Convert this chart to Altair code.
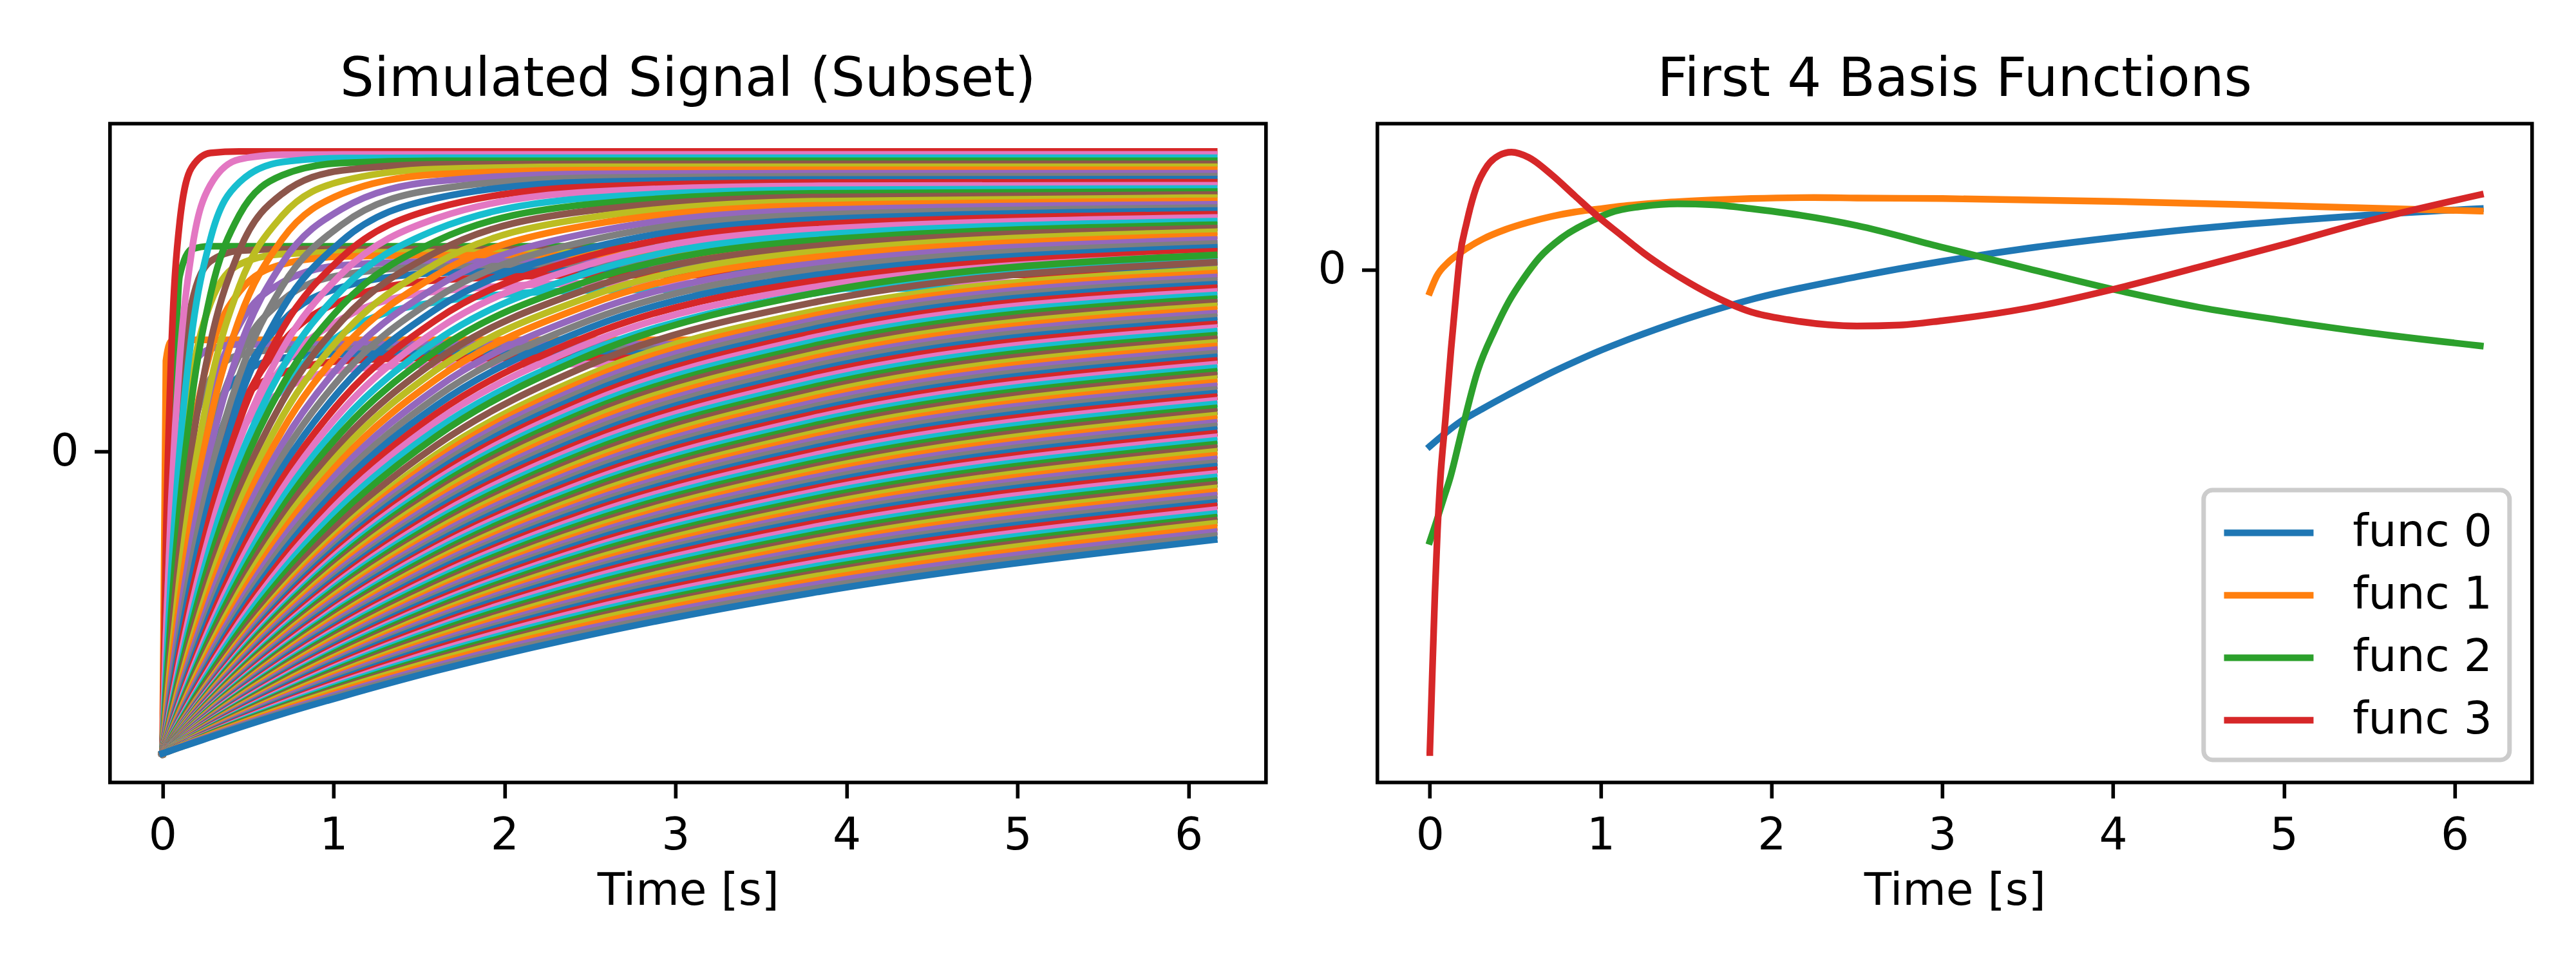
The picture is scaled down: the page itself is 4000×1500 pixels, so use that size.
import altair as alt
import pandas as pd

FONT = "DejaVu Sans"
TAB10 = ["#1f77b4", "#ff7f0e", "#2ca02c", "#d62728", "#9467bd",
         "#8c564b", "#e377c2", "#7f7f7f", "#bcbd22", "#17becf"]

# ---------------- left panel: simulated signals -------------
T_GRID = [0, 0.02, 0.05, 0.1, 0.17, 0.28, 0.45, 0.7, 1.05, 1.6, 2.5, 3.8, 6.15]

# main fan of recovery curves, ordered from the top (fastest) to the bottom (slowest)
FAN_CURVES = [
    [-1, -0.308, 0.306, 0.757, 0.940, 0.989, 0.994, 0.994, 0.994, 0.994, 0.994, 0.994, 0.994],
    [-1, -0.619, -0.181, 0.300, 0.659, 0.883, 0.968, 0.983, 0.984, 0.984, 0.984, 0.984, 0.984],
    [-1, -0.740, -0.410, 0.002, 0.383, 0.703, 0.892, 0.959, 0.972, 0.973, 0.973, 0.973, 0.973],
    [-1, -0.802, -0.541, -0.189, 0.168, 0.519, 0.784, 0.915, 0.956, 0.963, 0.963, 0.963, 0.963],
    [-1, -0.840, -0.625, -0.322, 0.006, 0.359, 0.666, 0.854, 0.931, 0.951, 0.953, 0.953, 0.953],
    [-1, -0.866, -0.685, -0.419, -0.120, 0.224, 0.549, 0.781, 0.896, 0.936, 0.943, 0.943, 0.943],
    [-1, -0.886, -0.727, -0.494, -0.219, 0.108, 0.440, 0.703, 0.854, 0.918, 0.932, 0.933, 0.933],
    [-1, -0.900, -0.760, -0.550, -0.300, 0.009, 0.342, 0.624, 0.804, 0.895, 0.920, 0.922, 0.922],
    [-1, -0.912, -0.788, -0.598, -0.367, -0.075, 0.252, 0.547, 0.752, 0.869, 0.907, 0.912, 0.912],
    [-1, -0.920, -0.808, -0.635, -0.422, -0.146, 0.172, 0.472, 0.698, 0.839, 0.893, 0.901, 0.902],
    [-1, -0.928, -0.826, -0.667, -0.470, -0.209, 0.100, 0.404, 0.644, 0.806, 0.877, 0.891, 0.892],
    [-1, -0.934, -0.840, -0.694, -0.510, -0.264, 0.035, 0.338, 0.590, 0.772, 0.860, 0.880, 0.882],
    [-1, -0.940, -0.853, -0.718, -0.546, -0.312, -0.025, 0.276, 0.536, 0.735, 0.840, 0.867, 0.871],
    [-1, -0.944, -0.864, -0.738, -0.576, -0.355, -0.078, 0.219, 0.484, 0.697, 0.819, 0.855, 0.861],
    [-1, -0.948, -0.873, -0.755, -0.604, -0.393, -0.127, 0.165, 0.434, 0.660, 0.798, 0.843, 0.851],
    [-1, -0.952, -0.882, -0.771, -0.628, -0.428, -0.171, 0.115, 0.385, 0.622, 0.775, 0.829, 0.841],
    [-1, -0.955, -0.889, -0.785, -0.649, -0.459, -0.212, 0.069, 0.339, 0.584, 0.751, 0.815, 0.830],
    [-1, -0.958, -0.896, -0.797, -0.669, -0.487, -0.249, 0.024, 0.294, 0.545, 0.725, 0.800, 0.819],
    [-1, -0.960, -0.901, -0.808, -0.686, -0.513, -0.284, -0.016, 0.251, 0.508, 0.700, 0.784, 0.808],
    [-1, -0.962, -0.907, -0.818, -0.702, -0.536, -0.315, -0.055, 0.211, 0.472, 0.674, 0.768, 0.798],
    [-1, -0.964, -0.912, -0.828, -0.717, -0.558, -0.345, -0.091, 0.172, 0.436, 0.648, 0.752, 0.786],
    [-1, -0.966, -0.916, -0.836, -0.730, -0.578, -0.372, -0.124, 0.135, 0.401, 0.621, 0.735, 0.775],
    [-1, -0.968, -0.920, -0.844, -0.743, -0.596, -0.398, -0.157, 0.099, 0.366, 0.594, 0.717, 0.763],
    [-1, -0.969, -0.924, -0.851, -0.754, -0.613, -0.421, -0.187, 0.066, 0.333, 0.567, 0.699, 0.751],
    [-1, -0.970, -0.927, -0.857, -0.764, -0.629, -0.444, -0.215, 0.033, 0.301, 0.541, 0.680, 0.740],
    [-1, -0.972, -0.930, -0.864, -0.774, -0.644, -0.464, -0.242, 0.003, 0.270, 0.514, 0.661, 0.728],
    [-1, -0.973, -0.933, -0.869, -0.783, -0.658, -0.484, -0.267, -0.027, 0.239, 0.488, 0.643, 0.715],
    [-1, -0.974, -0.936, -0.874, -0.792, -0.671, -0.503, -0.291, -0.056, 0.209, 0.461, 0.622, 0.702],
    [-1, -0.975, -0.939, -0.879, -0.800, -0.683, -0.520, -0.314, -0.083, 0.180, 0.435, 0.603, 0.689],
    [-1, -0.976, -0.941, -0.884, -0.807, -0.694, -0.536, -0.336, -0.108, 0.152, 0.410, 0.583, 0.676],
    [-1, -0.977, -0.943, -0.888, -0.814, -0.705, -0.551, -0.356, -0.133, 0.125, 0.385, 0.564, 0.663],
    [-1, -0.978, -0.945, -0.892, -0.821, -0.715, -0.566, -0.376, -0.157, 0.099, 0.360, 0.544, 0.650],
    [-1, -0.979, -0.947, -0.896, -0.827, -0.725, -0.580, -0.395, -0.180, 0.073, 0.334, 0.523, 0.635],
    [-1, -0.980, -0.949, -0.901, -0.834, -0.736, -0.596, -0.415, -0.204, 0.050, 0.320, 0.523, 0.651],
    [-1, -0.980, -0.952, -0.905, -0.841, -0.746, -0.611, -0.436, -0.230, 0.020, 0.288, 0.493, 0.627],
    [-1, -0.981, -0.953, -0.908, -0.847, -0.756, -0.625, -0.455, -0.255, -0.010, 0.256, 0.464, 0.603],
    [-1, -0.982, -0.954, -0.910, -0.850, -0.761, -0.632, -0.465, -0.267, -0.025, 0.241, 0.449, 0.591],
    [-1, -0.982, -0.955, -0.912, -0.853, -0.765, -0.639, -0.474, -0.279, -0.039, 0.225, 0.434, 0.578],
    [-1, -0.983, -0.956, -0.914, -0.856, -0.770, -0.646, -0.483, -0.291, -0.053, 0.210, 0.420, 0.566],
    [-1, -0.983, -0.957, -0.915, -0.859, -0.774, -0.652, -0.492, -0.302, -0.067, 0.195, 0.405, 0.554],
    [-1, -0.983, -0.958, -0.917, -0.862, -0.778, -0.658, -0.501, -0.313, -0.081, 0.180, 0.391, 0.542],
    [-1, -0.983, -0.959, -0.918, -0.864, -0.782, -0.664, -0.509, -0.324, -0.094, 0.165, 0.377, 0.530],
    [-1, -0.984, -0.960, -0.920, -0.867, -0.786, -0.670, -0.518, -0.335, -0.107, 0.151, 0.363, 0.518],
    [-1, -0.984, -0.960, -0.921, -0.869, -0.790, -0.676, -0.526, -0.345, -0.119, 0.137, 0.349, 0.506],
    [-1, -0.985, -0.961, -0.923, -0.871, -0.794, -0.682, -0.534, -0.355, -0.132, 0.123, 0.335, 0.494],
    [-1, -0.985, -0.962, -0.924, -0.873, -0.797, -0.687, -0.541, -0.365, -0.144, 0.109, 0.321, 0.482],
    [-1, -0.985, -0.963, -0.926, -0.876, -0.801, -0.693, -0.549, -0.375, -0.157, 0.095, 0.308, 0.470],
    [-1, -0.985, -0.963, -0.927, -0.878, -0.804, -0.698, -0.556, -0.385, -0.169, 0.081, 0.294, 0.458],
    [-1, -0.986, -0.964, -0.929, -0.880, -0.808, -0.703, -0.563, -0.395, -0.181, 0.068, 0.281, 0.446],
    [-1, -0.986, -0.964, -0.930, -0.882, -0.811, -0.708, -0.570, -0.404, -0.192, 0.054, 0.267, 0.434],
    [-1, -0.986, -0.965, -0.931, -0.884, -0.814, -0.713, -0.577, -0.413, -0.204, 0.041, 0.254, 0.422],
    [-1, -0.986, -0.966, -0.932, -0.886, -0.817, -0.718, -0.584, -0.422, -0.215, 0.028, 0.240, 0.410],
    [-1, -0.987, -0.967, -0.933, -0.888, -0.821, -0.723, -0.591, -0.431, -0.227, 0.015, 0.227, 0.398],
    [-1, -0.987, -0.967, -0.934, -0.890, -0.824, -0.727, -0.598, -0.440, -0.238, 0.002, 0.213, 0.385],
    [-1, -0.987, -0.968, -0.936, -0.892, -0.827, -0.732, -0.605, -0.449, -0.249, -0.011, 0.200, 0.373],
    [-1, -0.987, -0.968, -0.937, -0.894, -0.830, -0.736, -0.611, -0.457, -0.259, -0.024, 0.187, 0.361],
    [-1, -0.988, -0.969, -0.938, -0.896, -0.833, -0.741, -0.617, -0.466, -0.270, -0.036, 0.174, 0.349],
    [-1, -0.988, -0.969, -0.939, -0.898, -0.835, -0.745, -0.623, -0.474, -0.280, -0.048, 0.161, 0.337],
    [-1, -0.988, -0.970, -0.940, -0.900, -0.838, -0.749, -0.629, -0.482, -0.291, -0.060, 0.148, 0.325],
    [-1, -0.988, -0.970, -0.941, -0.901, -0.841, -0.753, -0.635, -0.490, -0.301, -0.072, 0.135, 0.313],
    [-1, -0.988, -0.971, -0.942, -0.903, -0.844, -0.757, -0.641, -0.498, -0.311, -0.084, 0.123, 0.301],
    [-1, -0.988, -0.971, -0.943, -0.905, -0.846, -0.761, -0.647, -0.505, -0.320, -0.096, 0.110, 0.289],
    [-1, -0.989, -0.972, -0.944, -0.907, -0.849, -0.765, -0.653, -0.513, -0.330, -0.108, 0.098, 0.277],
    [-1, -0.989, -0.972, -0.945, -0.908, -0.851, -0.769, -0.658, -0.520, -0.340, -0.119, 0.085, 0.265],
    [-1, -0.989, -0.973, -0.946, -0.910, -0.854, -0.773, -0.664, -0.528, -0.350, -0.131, 0.073, 0.253],
    [-1, -0.989, -0.973, -0.947, -0.911, -0.856, -0.777, -0.669, -0.535, -0.359, -0.142, 0.060, 0.241],
    [-1, -0.990, -0.974, -0.948, -0.913, -0.859, -0.781, -0.674, -0.542, -0.368, -0.154, 0.048, 0.229],
    [-1, -0.990, -0.974, -0.949, -0.914, -0.861, -0.784, -0.679, -0.549, -0.377, -0.165, 0.036, 0.217],
    [-1, -0.990, -0.975, -0.950, -0.916, -0.864, -0.788, -0.684, -0.556, -0.386, -0.176, 0.024, 0.205],
    [-1, -0.990, -0.975, -0.950, -0.917, -0.866, -0.791, -0.689, -0.563, -0.395, -0.187, 0.011, 0.193],
    [-1, -0.990, -0.976, -0.951, -0.919, -0.868, -0.795, -0.695, -0.570, -0.405, -0.198, -0.001, 0.181],
    [-1, -0.990, -0.976, -0.952, -0.920, -0.870, -0.798, -0.700, -0.577, -0.414, -0.209, -0.013, 0.169],
    [-1, -0.991, -0.977, -0.953, -0.922, -0.873, -0.802, -0.705, -0.584, -0.423, -0.221, -0.026, 0.157],
    [-1, -0.991, -0.977, -0.954, -0.923, -0.875, -0.805, -0.710, -0.591, -0.432, -0.232, -0.039, 0.144],
    [-1, -0.991, -0.978, -0.955, -0.924, -0.878, -0.809, -0.715, -0.598, -0.441, -0.243, -0.051, 0.132],
    [-1, -0.991, -0.978, -0.956, -0.925, -0.880, -0.812, -0.720, -0.605, -0.450, -0.254, -0.063, 0.120],
    [-1, -0.991, -0.979, -0.957, -0.927, -0.882, -0.816, -0.725, -0.612, -0.459, -0.265, -0.075, 0.108],
    [-1, -0.991, -0.979, -0.957, -0.928, -0.884, -0.819, -0.730, -0.618, -0.467, -0.275, -0.087, 0.096],
    [-1, -0.992, -0.979, -0.958, -0.930, -0.886, -0.822, -0.735, -0.624, -0.476, -0.286, -0.099, 0.084],
    [-1, -0.992, -0.979, -0.959, -0.931, -0.888, -0.825, -0.739, -0.630, -0.484, -0.296, -0.111, 0.072],
    [-1, -0.992, -0.980, -0.960, -0.932, -0.890, -0.828, -0.744, -0.637, -0.493, -0.307, -0.123, 0.060],
    [-1, -0.992, -0.980, -0.960, -0.933, -0.892, -0.831, -0.748, -0.643, -0.501, -0.318, -0.134, 0.048],
    [-1, -0.992, -0.981, -0.961, -0.935, -0.894, -0.835, -0.753, -0.649, -0.509, -0.328, -0.146, 0.036],
    [-1, -0.992, -0.981, -0.962, -0.936, -0.896, -0.838, -0.757, -0.655, -0.517, -0.338, -0.158, 0.024],
    [-1, -0.993, -0.981, -0.963, -0.937, -0.898, -0.841, -0.762, -0.662, -0.525, -0.349, -0.170, 0.012],
    [-1, -0.993, -0.981, -0.963, -0.938, -0.900, -0.844, -0.766, -0.668, -0.533, -0.359, -0.181, 0.000],
    [-1, -0.993, -0.982, -0.964, -0.940, -0.902, -0.847, -0.771, -0.674, -0.541, -0.370, -0.193, -0.013],
    [-1, -0.993, -0.982, -0.965, -0.941, -0.904, -0.850, -0.775, -0.680, -0.549, -0.380, -0.205, -0.025],
    [-1, -0.993, -0.983, -0.966, -0.942, -0.906, -0.853, -0.779, -0.685, -0.557, -0.389, -0.216, -0.037],
    [-1, -0.993, -0.983, -0.966, -0.943, -0.907, -0.855, -0.783, -0.690, -0.564, -0.398, -0.227, -0.049],
    [-1, -0.993, -0.984, -0.967, -0.944, -0.909, -0.858, -0.788, -0.697, -0.573, -0.409, -0.239, -0.061],
    [-1, -0.993, -0.984, -0.967, -0.945, -0.911, -0.861, -0.792, -0.703, -0.581, -0.419, -0.251, -0.073],
    [-1, -0.994, -0.984, -0.968, -0.947, -0.913, -0.864, -0.797, -0.709, -0.589, -0.430, -0.264, -0.085],
    [-1, -0.994, -0.984, -0.969, -0.948, -0.915, -0.867, -0.801, -0.715, -0.597, -0.441, -0.276, -0.097],
    [-1, -0.994, -0.985, -0.970, -0.949, -0.917, -0.870, -0.805, -0.721, -0.606, -0.451, -0.288, -0.109],
    [-1, -0.994, -0.985, -0.970, -0.950, -0.919, -0.873, -0.809, -0.727, -0.614, -0.461, -0.299, -0.121],
    [-1, -0.994, -0.986, -0.971, -0.952, -0.921, -0.876, -0.814, -0.733, -0.622, -0.472, -0.311, -0.133],
    [-1, -0.994, -0.986, -0.972, -0.953, -0.923, -0.879, -0.818, -0.739, -0.630, -0.482, -0.323, -0.145],
    [-1, -0.995, -0.987, -0.973, -0.954, -0.925, -0.882, -0.823, -0.745, -0.638, -0.492, -0.335, -0.157],
    [-1, -0.995, -0.987, -0.973, -0.955, -0.927, -0.885, -0.827, -0.751, -0.645, -0.502, -0.346, -0.169],
    [-1, -0.995, -0.987, -0.974, -0.956, -0.929, -0.888, -0.831, -0.757, -0.653, -0.512, -0.358, -0.181],
    [-1, -0.995, -0.987, -0.975, -0.957, -0.931, -0.891, -0.835, -0.763, -0.661, -0.522, -0.370, -0.193],
    [-1, -0.995, -0.988, -0.976, -0.959, -0.933, -0.894, -0.840, -0.769, -0.670, -0.533, -0.382, -0.206],
    [-1, -0.995, -0.988, -0.976, -0.960, -0.934, -0.897, -0.844, -0.775, -0.678, -0.543, -0.394, -0.218],
    [-1, -0.995, -0.989, -0.977, -0.961, -0.936, -0.900, -0.848, -0.780, -0.685, -0.552, -0.405, -0.228],
    [-1, -0.995, -0.989, -0.977, -0.962, -0.938, -0.902, -0.851, -0.785, -0.692, -0.561, -0.415, -0.238],
    [-1, -0.996, -0.989, -0.978, -0.963, -0.940, -0.905, -0.856, -0.792, -0.701, -0.573, -0.429, -0.252],
    [-1, -0.996, -0.989, -0.979, -0.964, -0.942, -0.908, -0.861, -0.799, -0.710, -0.585, -0.442, -0.266],
    [-1, -0.996, -0.990, -0.980, -0.966, -0.944, -0.911, -0.865, -0.805, -0.718, -0.596, -0.455, -0.279],
    [-1, -0.996, -0.990, -0.980, -0.967, -0.946, -0.914, -0.869, -0.811, -0.726, -0.607, -0.468, -0.292],
]

# curves that level off at a middle height (upper group)
B_CURVES = [
    [-1, -0.62, -0.15, 0.58, 0.67, 0.68, 0.68, 0.68, 0.68, 0.68, 0.68, 0.68, 0.68],
    [-1, -0.62, -0.20, 0.21, 0.49, 0.63, 0.665, 0.67, 0.67, 0.67, 0.67, 0.67, 0.67],
    [-1, -0.75, -0.45, -0.08, 0.24, 0.49, 0.62, 0.654, 0.66, 0.66, 0.66, 0.66, 0.66],
    [-1, -0.82, -0.58, -0.27, 0.04, 0.33, 0.53, 0.62, 0.646, 0.65, 0.65, 0.65, 0.65],
    [-1, -0.86, -0.67, -0.40, -0.12, 0.18, 0.42, 0.56, 0.617, 0.629, 0.63, 0.63, 0.63],
    [-1, -0.88, -0.72, -0.49, -0.23, 0.05, 0.32, 0.50, 0.585, 0.612, 0.616, 0.616, 0.616],
    [-1, -0.90, -0.76, -0.56, -0.33, -0.05, 0.22, 0.43, 0.545, 0.591, 0.60, 0.60, 0.60],
    [-1, -0.91, -0.79, -0.62, -0.40, -0.14, 0.13, 0.36, 0.50, 0.567, 0.584, 0.585, 0.585],
    [-1, -0.93, -0.82, -0.66, -0.47, -0.22, 0.05, 0.28, 0.44, 0.53, 0.557, 0.56, 0.56],
    [-1, -0.93, -0.84, -0.70, -0.52, -0.29, -0.03, 0.21, 0.39, 0.495, 0.534, 0.54, 0.54],
]

# curves that level off at a lower height
C_CURVES = [
    [-1, 0.30, 0.365, 0.37, 0.37, 0.37, 0.37, 0.37, 0.37, 0.37, 0.37, 0.37, 0.37],
    [-1, -0.62, -0.23, 0.10, 0.28, 0.34, 0.355, 0.355, 0.355, 0.355, 0.355, 0.355, 0.355],
    [-1, -0.78, -0.51, -0.20, 0.05, 0.24, 0.32, 0.338, 0.34, 0.34, 0.34, 0.34, 0.34],
    [-1, -0.84, -0.64, -0.38, -0.13, 0.10, 0.25, 0.31, 0.323, 0.325, 0.325, 0.325, 0.325],
    [-1, -0.88, -0.72, -0.50, -0.27, -0.04, 0.16, 0.26, 0.30, 0.31, 0.31, 0.31, 0.31],
    [-1, -0.91, -0.77, -0.59, -0.38, -0.15, 0.06, 0.20, 0.27, 0.287, 0.29, 0.29, 0.29],
]

# plotting order as in the source (colour = order % 10 of the tab10 cycle)
series = []
for j, vals in enumerate(C_CURVES):
    series.append((3 * j + 1, vals))
for j, vals in enumerate(B_CURVES):
    series.append((3 * j + 2, vals))
for k, vals in enumerate(FAN_CURVES, start=1):
    series.append((3 * k, vals))
series.sort(key=lambda s: s[0])

rows = []
for idx, vals in series:
    for t, v in zip(T_GRID, vals):
        rows.append({"key": f"s{idx:03d}", "col": TAB10[idx % 10], "t": t, "v": v})
left_df = pd.DataFrame(rows)

# ---------------- right panel: first 4 basis functions ----------------
FUNC_NAMES = ["func 0", "func 1", "func 2", "func 3"]
F0_T = [0, 0.175, 0.31, 0.444, 0.579, 0.714, 0.848, 0.983, 1.117, 1.252, 1.387, 1.521,
        1.656, 1.882, 2.5, 3.0, 3.5, 4.0, 4.5, 5.0, 5.5, 6.15]
F0_V = [-0.366, -0.316, -0.288, -0.262, -0.237, -0.213, -0.191, -0.170, -0.151, -0.133,
        -0.116, -0.100, -0.085, -0.062, -0.015, 0.017, 0.044, 0.066, 0.085, 0.100, 0.113, 0.126]
F1_T = [0, 0.04, 0.108, 0.175, 0.31, 0.444, 0.579, 0.714, 0.848, 0.983, 1.117, 1.387,
        1.656, 1.882, 2.25, 2.5, 3.0, 4.0, 5.0, 6.15]
F1_V = [-0.047, -0.014, 0.015, 0.034, 0.063, 0.083, 0.098, 0.110, 0.119, 0.125, 0.131,
        0.139, 0.144, 0.147, 0.149, 0.148, 0.147, 0.141, 0.132, 0.121]
F2_T = [0, 0.04, 0.08, 0.12, 0.19, 0.28, 0.38, 0.46, 0.55, 0.64, 0.77, 0.96, 1.06, 1.25,
        1.45, 1.66, 1.88, 2.1, 2.5, 3.0, 3.5, 4.0, 4.5, 5.0, 5.5, 6.15]
F2_V = [-0.563, -0.52, -0.475, -0.43, -0.33, -0.21, -0.125, -0.068, -0.018, 0.024, 0.065,
        0.103, 0.118, 0.131, 0.136, 0.134, 0.126, 0.116, 0.091, 0.046, 0.002, -0.041,
        -0.078, -0.106, -0.131, -0.158]
F3_T = [0, 0.015, 0.03, 0.045, 0.061, 0.0915, 0.124, 0.155, 0.175, 0.215, 0.269, 0.337,
        0.404, 0.478, 0.579, 0.714, 0.848, 0.983, 1.117, 1.252, 1.387, 1.521, 1.656, 1.882,
        2.1, 2.5, 2.75, 3.0, 3.5, 4.0, 4.5, 5.0, 5.5, 6.15]
F3_V = [-1.0, -0.83, -0.67, -0.54, -0.437, -0.309, -0.166, -0.047, 0.024, 0.096, 0.167,
        0.215, 0.236, 0.243, 0.232, 0.196, 0.153, 0.110, 0.072, 0.034, 0.001, -0.028,
        -0.054, -0.088, -0.104, -0.117, -0.115, -0.106, -0.080, -0.041, 0.005, 0.052,
        0.101, 0.155]

rrows = []
for name, ts, vs in zip(FUNC_NAMES, [F0_T, F1_T, F2_T, F3_T], [F0_V, F1_V, F2_V, F3_V]):
    for t, v in zip(ts, vs):
        rrows.append({"func": name, "t": t, "v": v})
right_df = pd.DataFrame(rrows)

# ---------------- styling ----------------
FS_TICK = 69.4
FS_TITLE = 83.3
LW = 10.4
X_DOMAIN = [-0.307, 6.453]
X_TICKS = [0, 1, 2, 3, 4, 5, 6]


def x_axis():
    return alt.Axis(values=X_TICKS, format="d", title="Time [s]", grid=False, domain=False,
                    labelFont=FONT, labelFontSize=FS_TICK, labelColor="black",
                    labelPadding=24.3, labelFlush=False, tickColor="black",
                    tickSize=24.3, tickWidth=5.6, titleFont=FONT, titleFontSize=FS_TICK,
                    titleFontWeight="normal", titleColor="black", titlePadding=18)


def y_axis():
    return alt.Axis(values=[0], format="d", title=None, grid=False, domain=False,
                    labelFont=FONT, labelFontSize=FS_TICK, labelColor="black",
                    labelPadding=24.3, tickColor="black", tickSize=24.3, tickWidth=5.6)


def title(text):
    return alt.TitleParams(text, font=FONT, fontSize=FS_TITLE, fontWeight="normal",
                           color="black", anchor="middle", baseline="alphabetic",
                           offset=-40)


left = alt.Chart(left_df).mark_line(
    strokeWidth=LW, interpolate="monotone", strokeCap="square", strokeJoin="round", clip=True
).encode(
    x=alt.X("t:Q", scale=alt.Scale(domain=X_DOMAIN, nice=False, zero=False), axis=x_axis()),
    y=alt.Y("v:Q", scale=alt.Scale(domain=[-1.096, 1.086], nice=False, zero=False),
            axis=y_axis()),
    color=alt.Color("col:N", scale=None),
    detail="key:N",
).properties(width=1795, height=1023, title=title("Simulated Signal (Subset)"))

right = alt.Chart(right_df).mark_line(
    strokeWidth=LW, interpolate="monotone", strokeCap="square", strokeJoin="round", clip=True
).encode(
    x=alt.X("t:Q", scale=alt.Scale(domain=X_DOMAIN, nice=False, zero=False), axis=x_axis()),
    y=alt.Y("v:Q", scale=alt.Scale(domain=[-1.062, 0.302], nice=False, zero=False),
            axis=y_axis()),
    color=alt.Color(
        "func:N",
        scale=alt.Scale(domain=FUNC_NAMES, range=TAB10[:4]),
        legend=alt.Legend(
            title=None, orient="bottom-right", offset=34.7, padding=26.4,
            labelFont=FONT, labelFontSize=FS_TICK, labelColor="black", labelLimit=1000,
            symbolType="M-1,0H3", symbolSize=4830, symbolStrokeWidth=LW,
            labelOffset=125, rowPadding=22, strokeColor="#cccccc",
            fillColor="rgba(255,255,255,0.8)", cornerRadius=14,
        ),
    ),
).properties(width=1793, height=1023, title=title("First 4 Basis Functions"))

chart = (
    alt.hconcat(left, right, spacing=74)
    .resolve_scale(color="independent")
    .properties(padding={"left": 66.8, "top": 70, "right": 0, "bottom": 0})
    .configure_view(stroke="black", strokeWidth=5.6)
    .configure_legend(strokeWidth=7)
)

chart.save("out.html", embed_options={"renderer": "svg", "actions": False})
